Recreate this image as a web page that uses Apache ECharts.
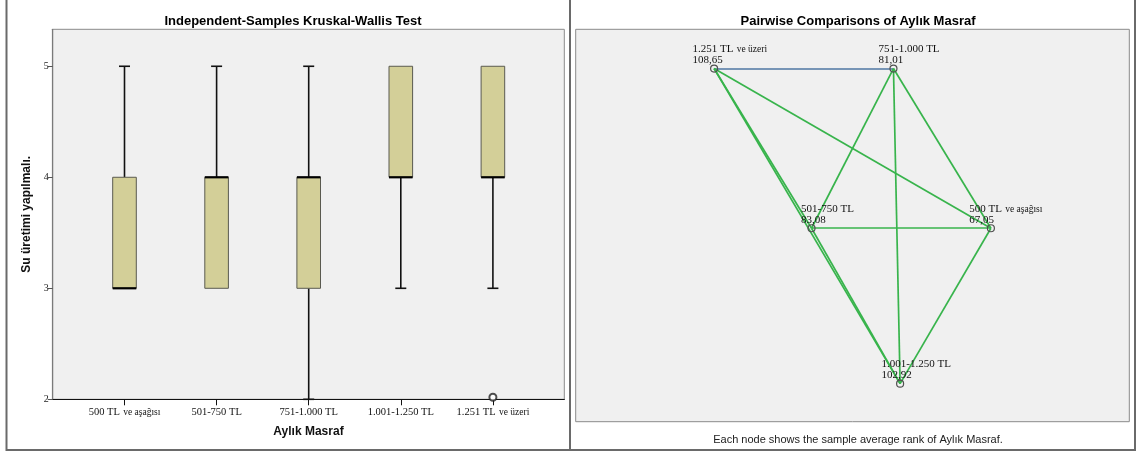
<!DOCTYPE html>
<html>
<head>
<meta charset="utf-8">
<script src="https://cdn.jsdelivr.net/npm/echarts@6/dist/echarts.min.js"></script>
<style>
html, body { margin: 0; padding: 0; background: #fff; }
#main { width: 1138px; height: 454px; }
</style>
</head>
<body>
<div id="main"></div>
<script>
// left panel: box plot of "Su üretimi yapılmalı." by Aylık Masraf
const categories = ['500 TL ve aşağısı', '501-750 TL', '751-1.000 TL', '1.001-1.250 TL', '1.251 TL ve üzeri'];
const boxMin = [3, 3, 2, 3, 3];
const boxQ1 = [3, 3, 3, 4, 4];
const boxMedian = [3, 4, 4, 4, 4];
const boxQ3 = [4, 4, 4, 5, 5];
const boxMax = [5, 5, 5, 5, 5];
const outliers = [[4, 2]];
const yTicks = [2, 3, 4, 5];

// right panel: pairwise comparison network
const nodeNames = ['1.251 TL ve üzeri', '751-1.000 TL', '501-750 TL', '500 TL ve aşağısı', '1.001-1.250 TL'];
const nodeRanks = ['108,65', '81,01', '83,08', '67,05', '102,92'];
const nodeX = [25.0, 57.4, 42.6, 75.0, 58.6];
const nodeY = [90.0, 90.0, 49.3, 49.3, 9.7];
const edgePairs = [[0, 1], [0, 2], [0, 4], [0, 3], [1, 2], [1, 4], [1, 3], [2, 3], [2, 4], [3, 4]];
const edgeGroup = [1, 0, 0, 0, 0, 0, 0, 0, 0, 0];

const edgeColors = ['#38b44c', '#4f77a3'];
const labelShift = [-21.6, -15, -10.5, -21.7, -18.6];

const serif = '"Liberation Serif", "DejaVu Serif", serif';
const sans = '"Liberation Sans", Arial, sans-serif';

function richName(name) {
	const k = name.indexOf(' ve ');
	if (k < 0) return '{a|' + name + '}';
	return '{a|' + name.slice(0, k) + '} {s|' + name.slice(k + 1) + '}';
}

function renderBox(params, api) {
	const i = api.value(0);
	const x = api.coord([i, 0])[0];
	const y = (v) => api.coord([i, v])[1];
	const lo = api.value(1), q1 = api.value(2), med = api.value(3), q3 = api.value(4), hi = api.value(5);
	const half = 11.8, cap = 5.5;
	const ln = { stroke: '#111', lineWidth: 1.6 };
	const children = [];
	if (hi > q3) {
		children.push({ type: 'line', shape: { x1: x, y1: y(hi), x2: x, y2: y(q3) }, style: ln });
		children.push({ type: 'line', shape: { x1: x - cap, y1: y(hi), x2: x + cap, y2: y(hi) }, style: ln });
	}
	if (lo < q1) {
		children.push({ type: 'line', shape: { x1: x, y1: y(q1), x2: x, y2: y(lo) }, style: ln });
		children.push({ type: 'line', shape: { x1: x - cap, y1: y(lo), x2: x + cap, y2: y(lo) }, style: ln });
	}
	children.push({
		type: 'rect',
		shape: { x: x - half, y: y(q3), width: half * 2, height: y(q1) - y(q3) },
		style: { fill: '#d3cf98', stroke: '#5a5a50', lineWidth: 1 }
	});
	children.push({ type: 'line', shape: { x1: x - half, y1: y(med), x2: x + half, y2: y(med) }, style: { stroke: '#000', lineWidth: 2.2 } });
	return { type: 'group', children: children };
}

const chart = echarts.init(document.getElementById('main'));
chart.setOption({
	animation: false,
	title: [{
		text: 'Independent-Samples Kruskal-Wallis Test',
		left: 288, top: 10, textAlign: 'center',
		textStyle: { fontFamily: sans, fontSize: 13, fontWeight: 'bold', color: '#000' }
	}, {
		text: 'Pairwise Comparisons of Aylık Masraf',
		left: 853, top: 10, textAlign: 'center',
		textStyle: { fontFamily: sans, fontSize: 13, fontWeight: 'bold', color: '#000' }
	}, {
		text: 'Each node shows the sample average rank of Aylık Masraf.',
		left: 853, top: 429, textAlign: 'center',
		textStyle: { fontFamily: sans, fontSize: 11, fontWeight: 'normal', color: '#222' }
	}],
	graphic: [{
		type: 'rect', silent: true, z: 0,
		shape: { x: 6.5, y: -4, width: 1128.5, height: 454 },
		style: { fill: 'none', stroke: '#6a6a6a', lineWidth: 2 }
	}, {
		type: 'line', silent: true, z: 0,
		shape: { x1: 570, y1: -4, x2: 570, y2: 451 },
		style: { stroke: '#6a6a6a', lineWidth: 2 }
	}],
	grid: [
		{ left: 52.7, top: 29.3, width: 511.6, height: 370, show: true, backgroundColor: '#f0f0f0', borderColor: '#8a8a8a', borderWidth: 1 },
		{ left: 78.45, top: 29.3, width: 460.5, height: 370 },
		{ left: 575.7, top: 29.3, width: 553.6, height: 392.4, show: true, backgroundColor: '#f0f0f0', borderColor: '#8a8a8a', borderWidth: 1 }
	],
	xAxis: [{
		gridIndex: 0, type: 'value', min: 0, max: 1,
		name: 'Aylık Masraf', nameLocation: 'middle', nameGap: 26,
		nameTextStyle: { fontFamily: sans, fontSize: 12, fontWeight: 'bold', color: '#111' },
		axisLine: { show: true, onZero: false, lineStyle: { color: '#111', width: 1.2 } },
		axisTick: { show: false }, axisLabel: { show: false }, splitLine: { show: false }
	}, {
		gridIndex: 1, type: 'category', data: categories,
		axisLine: { show: false },
		axisTick: { show: true, alignWithLabel: true, length: 6, lineStyle: { color: '#111' } },
		axisLabel: {
			margin: 7, color: '#111', interval: 0,
			formatter: richName,
			rich: {
				a: { fontFamily: serif, fontSize: 10.5, color: '#111' },
				s: { fontFamily: serif, fontSize: 9.5, color: '#111' }
			}
		},
		splitLine: { show: false }
	}, {
		gridIndex: 2, type: 'value', min: 0, max: 100, show: false
	}],
	yAxis: [{
		gridIndex: 0, type: 'value', min: 2, max: 5.333,
		name: 'Su üretimi yapılmalı.', nameLocation: 'middle', nameGap: 20, nameRotate: 90,
		nameTextStyle: { fontFamily: sans, fontSize: 12, fontWeight: 'bold', color: '#111' },
		axisLine: { show: true, lineStyle: { color: '#7a7a7a', width: 1.2 } },
		axisTick: { show: true, length: 5, customValues: yTicks, lineStyle: { color: '#555' } },
		axisLabel: { customValues: yTicks, margin: 4, fontFamily: serif, fontSize: 10, color: '#222' },
		splitLine: { show: false }
	}, {
		gridIndex: 1, type: 'value', min: 2, max: 5.333, show: false
	}, {
		gridIndex: 2, type: 'value', min: 0, max: 100, show: false
	}],
	series: [{
		type: 'custom',
		xAxisIndex: 1, yAxisIndex: 1,
		renderItem: renderBox,
		encode: { x: 0, y: [1, 2, 3, 4, 5] },
		data: categories.map((c, i) => [i, boxMin[i], boxQ1[i], boxMedian[i], boxQ3[i], boxMax[i]]),
		z: 3
	}, {
		type: 'scatter',
		xAxisIndex: 1, yAxisIndex: 1,
		symbol: 'emptyCircle', symbolSize: 7,
		symbolOffset: [0, -2],
		itemStyle: { color: '#222', borderWidth: 1.2 },
		data: outliers,
		z: 4
	}, {
		type: 'graph',
		coordinateSystem: 'cartesian2d',
		xAxisIndex: 2, yAxisIndex: 2,
		symbol: 'circle', symbolSize: 7,
		itemStyle: { color: 'rgba(0,0,0,0)', borderColor: '#505050', borderWidth: 1.2 },
		label: {
			show: true, position: 'top', align: 'left', verticalAlign: 'bottom', distance: -1.5,
			lineHeight: 11,
			rich: {
				a: { fontFamily: serif, fontSize: 11, color: '#111', lineHeight: 11 },
				s: { fontFamily: serif, fontSize: 9.5, color: '#111', lineHeight: 11 }
			}
		},
		data: nodeNames.map((n, i) => ({
			name: n,
			value: [nodeX[i], nodeY[i]],
			label: { formatter: richName(n) + '\n{a|' + nodeRanks[i] + '}', offset: [labelShift[i], 0] }
		})),
		links: edgePairs.map((p, i) => ({
			source: nodeNames[p[0]],
			target: nodeNames[p[1]],
			lineStyle: { color: edgeColors[edgeGroup[i]], width: 1.7, opacity: 1 }
		})),
		lineStyle: { curveness: 0 },
		z: 3
	}]
});
</script>
</body>
</html>
